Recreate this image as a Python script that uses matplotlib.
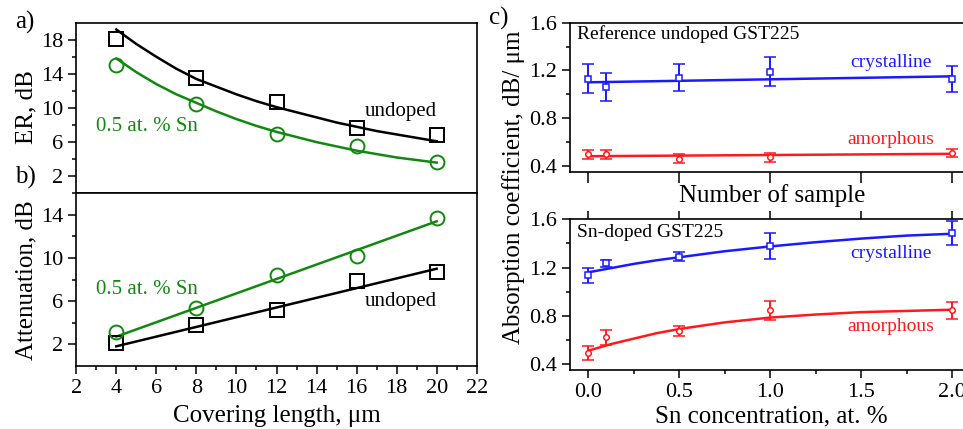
import numpy as np
import matplotlib
matplotlib.use("Agg")
import matplotlib.pyplot as plt
from matplotlib.ticker import MultipleLocator

plt.rcParams['font.family'] = ['Liberation Serif', 'DejaVu Serif']
plt.rcParams['mathtext.fontset'] = 'stix'

GREEN = '#11880f'
BLUE = '#1a1aff'
RED = '#ff1a1a'

# a) extinction ratio vs covering length
length = [4, 8, 12, 16, 20]
er_undoped = [18.1, 13.5, 10.7, 7.6, 6.8]
er_sn = [15.0, 10.5, 7.0, 5.6, 3.7]
fit_len = [4, 5, 6, 7, 8, 9, 10, 11, 12, 13, 14, 15, 16, 17, 18, 19, 20]
er_undoped_fit = [19.2, 17.5, 16.0, 14.6, 13.4, 12.5, 11.6, 10.8, 10.1,
                  9.5, 8.9, 8.3, 7.8, 7.3, 6.9, 6.5, 6.1]
er_sn_fit = [15.8, 14.2, 12.8, 11.6, 10.6, 9.6, 8.7, 7.9, 7.2,
             6.6, 6.0, 5.5, 5.0, 4.6, 4.2, 3.9, 3.6]

# b) attenuation vs covering length
att_undoped = [2.15, 3.75, 5.2, 7.85, 8.7]
att_sn = [3.1, 5.35, 8.45, 10.2, 13.7]
line_len = [4, 20]
att_undoped_fit = [1.8, 9.0]
att_sn_fit = [2.7, 13.4]

# c) absorption coefficient
sn_conc = [0.0, 0.1, 0.5, 1.0, 2.0]
ref_cryst = [1.13, 1.06, 1.14, 1.19, 1.13]
ref_cryst_err = [0.12, 0.12, 0.11, 0.125, 0.11]
ref_amor = [0.495, 0.495, 0.46, 0.47, 0.505]
ref_amor_err = [0.04, 0.04, 0.04, 0.04, 0.035]
ref_line_x = [0.0, 2.0]
ref_cryst_fit = [1.10, 1.15]
ref_amor_fit = [0.48, 0.50]

sn_cryst = [1.135, 1.235, 1.29, 1.38, 1.485]
sn_cryst_err = [0.06, 0.03, 0.035, 0.11, 0.1]
sn_amor = [0.49, 0.62, 0.675, 0.845, 0.845]
sn_amor_err = [0.055, 0.065, 0.04, 0.08, 0.07]
sn_fit_x = [0.0, 0.125, 0.25, 0.375, 0.5, 0.75, 1.0, 1.25, 1.5, 1.75, 2.0]
sn_cryst_fit = [1.16, 1.195, 1.23, 1.26, 1.285, 1.335, 1.375, 1.41, 1.44, 1.465, 1.48]
sn_amor_fit = [0.51, 0.565, 0.61, 0.655, 0.69, 0.745, 0.785, 0.81, 0.83, 0.84, 0.85]

W, H = 963, 429
fig = plt.figure(figsize=(W / 100, H / 100), dpi=100)


def box(l, t, r, b):
    return [l / W, 1 - b / H, (r - l) / W, (b - t) / H]


TICK = 16
TXT = 15

ax_a = fig.add_axes(box(76.3, 22.7, 476.7, 193.3))
ax_b = fig.add_axes(box(76.3, 193.3, 476.7, 365.7))
ax_c1 = fig.add_axes(box(570, 22.7, 970.4, 171.7))
ax_c2 = fig.add_axes(box(570, 219.3, 970.4, 370))

for ax in (ax_a, ax_b, ax_c1, ax_c2):
    for s in ax.spines.values():
        s.set_linewidth(1.2)
    ax.tick_params(which='both', direction='out', labelsize=TICK, width=1.1)
    ax.tick_params(which='major', length=6)
    ax.tick_params(which='minor', length=3)

# panel a
ax_a.plot(fit_len, er_undoped_fit, color='black', lw=1.8)
ax_a.plot(fit_len, er_sn_fit, color=GREEN, lw=1.8)
ax_a.plot(length, er_undoped, 's', mfc='none', mec='black', ms=10, mew=1.4)
ax_a.plot(length, er_sn, 'o', mfc='none', mec=GREEN, ms=10, mew=1.4)
ax_a.set_xlim(2, 22)
ax_a.set_ylim(0, 20)
ax_a.yaxis.set_major_locator(plt.FixedLocator([2, 6, 10, 14, 18]))
ax_a.yaxis.set_minor_locator(plt.FixedLocator([4, 8, 12, 16]))
ax_a.tick_params(axis='x', which='both', bottom=False, labelbottom=False)
ax_a.text(16.4, 9.6, 'undoped', fontsize=TXT, va='center')
ax_a.text(3.0, 7.8, '0.5 at. % Sn', fontsize=TXT, va='center', color=GREEN)

# panel b
ax_b.plot(line_len, att_undoped_fit, color='black', lw=1.8)
ax_b.plot(line_len, att_sn_fit, color=GREEN, lw=1.8)
ax_b.plot(length, att_undoped, 's', mfc='none', mec='black', ms=10, mew=1.4)
ax_b.plot(length, att_sn, 'o', mfc='none', mec=GREEN, ms=10, mew=1.4)
ax_b.set_xlim(2, 22)
ax_b.set_ylim(0, 16)
ax_b.xaxis.set_major_locator(MultipleLocator(2))
ax_b.xaxis.set_minor_locator(MultipleLocator(1))
ax_b.yaxis.set_major_locator(plt.FixedLocator([2, 6, 10, 14]))
ax_b.yaxis.set_minor_locator(plt.FixedLocator([4, 8, 12, 16]))
ax_b.text(3.0, 7.1, '0.5 at. % Sn', fontsize=TXT, va='center', color=GREEN)
ax_b.text(16.4, 6.0, 'undoped', fontsize=TXT, va='center')

fig.text(26 / W, 1 - 107 / H, 'ER, dB', rotation=90, fontsize=18,
         ha='center', va='center')
fig.text(26 / W, 1 - 280 / H, 'Attenuation, dB', rotation=90, fontsize=18,
         ha='center', va='center')
fig.text(277 / W, 1 - 405 / H, 'Covering length, μm', fontsize=18,
         ha='center', va='top')
fig.text(15 / W, 1 - 22 / H, 'a)', fontsize=18, ha='left', va='center')
fig.text(15 / W, 1 - 177 / H, 'b)', fontsize=18, ha='left', va='center')
fig.text(489 / W, 1 - 18 / H, 'c)', fontsize=18, ha='left', va='center')

# panel c
ebkw = dict(capsize=4, elinewidth=1.4, capthick=1.4, ms=4, mew=1.1, mfc='white',
            ls='none')
ax_c1.plot(ref_line_x, ref_cryst_fit, color=BLUE, lw=1.8)
ax_c1.plot(ref_line_x, ref_amor_fit, color=RED, lw=1.8)
ax_c1.errorbar(sn_conc, ref_cryst, yerr=ref_cryst_err, fmt='s', color=BLUE, **ebkw)
ax_c1.errorbar(sn_conc, ref_amor, yerr=ref_amor_err, fmt='o', color=RED, **ebkw)

ax_c2.plot(sn_fit_x, sn_cryst_fit, color=BLUE, lw=1.8)
ax_c2.plot(sn_fit_x, sn_amor_fit, color=RED, lw=1.8)
ax_c2.errorbar(sn_conc, sn_cryst, yerr=sn_cryst_err, fmt='s', color=BLUE, **ebkw)
ax_c2.errorbar(sn_conc, sn_amor, yerr=sn_amor_err, fmt='o', color=RED, **ebkw)

for ax in (ax_c1, ax_c2):
    ax.set_xlim(-0.1, 2.1)
    ax.set_ylim(0.35, 1.6)
    ax.xaxis.set_major_locator(MultipleLocator(0.5))
    ax.yaxis.set_major_locator(MultipleLocator(0.4))
    ax.yaxis.set_minor_locator(plt.FixedLocator([0.6, 1.0, 1.4]))
    ax.yaxis.set_major_formatter(plt.FormatStrFormatter('%.1f'))

ax_c1.tick_params(axis='x', which='major', labelbottom=False, length=8)
ax_c2.xaxis.set_minor_locator(MultipleLocator(0.25))
ax_c2.xaxis.set_major_formatter(plt.FormatStrFormatter('%.1f'))
ax_c2.tick_params(axis='x', which='major', top=True, length=6)

ax_c1.text(-0.06, 1.505, 'Reference undoped GST225', fontsize=14, va='center')
ax_c1.text(1.44, 1.27, 'crystalline', fontsize=14, va='center', color=BLUE)
ax_c1.text(1.423, 0.616, 'amorphous', fontsize=14, va='center', color=RED)
ax_c2.text(-0.06, 1.487, 'Sn-doped GST225', fontsize=14, va='center')
ax_c2.text(1.44, 1.32, 'crystalline', fontsize=14, va='center', color=BLUE)
ax_c2.text(1.423, 0.71, 'amorphous', fontsize=14, va='center', color=RED)

fig.text(772 / W, 1 - 196 / H, 'Number of sample', fontsize=18,
         ha='center', va='center')
fig.text(771 / W, 1 - 405 / H, 'Sn concentration, at. %', fontsize=18,
         ha='center', va='top')
fig.text(514 / W, 1 - 187 / H, 'Absorption coefficient, dB/ μm', rotation=90,
         fontsize=18, ha='center', va='center')

fig.savefig('out.png', dpi=100)
